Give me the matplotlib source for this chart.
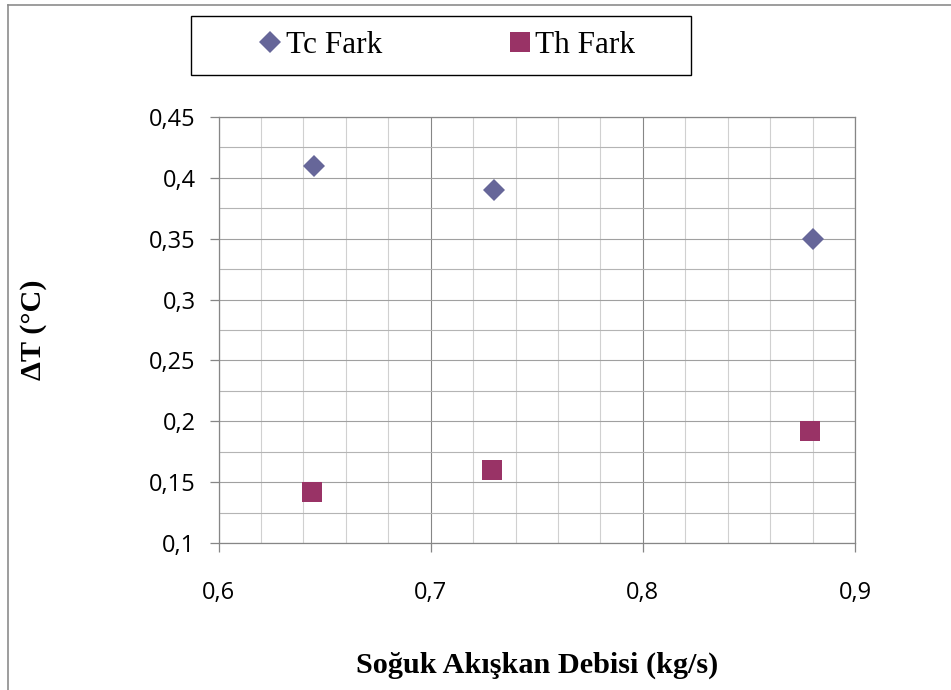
import matplotlib
matplotlib.use("Agg")
import matplotlib.pyplot as plt
from matplotlib.lines import Line2D
from matplotlib.patches import Rectangle
from matplotlib.ticker import MultipleLocator, FuncFormatter

# Measured temperature differences vs. cold-side mass flow
tc_flow = [0.645, 0.73, 0.88]
tc_diff = [0.41, 0.39, 0.35]
th_flow = [0.644, 0.729, 0.879]
th_diff = [0.142, 0.16, 0.192]

series_labels = ["Tc Fark", "Th Fark"]
xlabel = "Soğuk Akışkan Debisi (kg/s)"
ylabel = "ΔT (°C)"

W, H = 951, 690
fig = plt.figure(figsize=(W / 100, H / 100), dpi=100)
ax = fig.add_axes([218.5 / W, 1 - 543 / H, (855 - 218.5) / W, (543 - 117) / H])

# outer chart border (left and top edges only are in view)
fig.add_artist(Line2D([7.5 / W, 7.5 / W], [0, 1 - 4.5 / H], transform=fig.transFigure,
                      color="#8c8c8c", lw=1.2))
fig.add_artist(Line2D([7.5 / W, 1], [1 - 4.5 / H, 1 - 4.5 / H], transform=fig.transFigure,
                      color="#8c8c8c", lw=1.2))

ax.plot(tc_flow, tc_diff, linestyle="none", marker="D", ms=11, mew=0,
        color="#666699", label=series_labels[0], zorder=3)
ax.plot(th_flow, th_diff, linestyle="none", marker="s", ms=13.8, mew=0,
        color="#993366", label=series_labels[1], zorder=3)

ax.set_xlim(0.6, 0.9)
ax.set_ylim(0.1, 0.45)
ax.xaxis.set_major_locator(MultipleLocator(0.1))
ax.xaxis.set_minor_locator(MultipleLocator(0.02))
ax.yaxis.set_major_locator(MultipleLocator(0.05))
ax.yaxis.set_minor_locator(MultipleLocator(0.025))

comma = FuncFormatter(lambda v, p: f"{v:.2f}".rstrip("0").rstrip(".").replace(".", ","))
ax.xaxis.set_major_formatter(comma)
ax.yaxis.set_major_formatter(comma)

ax.grid(True, which="major", axis="x", color="#868686", lw=0.8)
ax.grid(True, which="minor", axis="x", color="#d0d0d0", lw=0.8)
ax.grid(True, which="major", axis="y", color="#a0a0a0", lw=0.8)
ax.grid(True, which="minor", axis="y", color="#b4b4b4", lw=0.8)
ax.set_axisbelow(True)

for s in ax.spines.values():
    s.set_color("#868686")
    s.set_linewidth(0.9)

ax.tick_params(which="major", direction="out", length=6.5, width=0.9, color="#868686",
               labelsize=17, labelcolor="black")
ax.tick_params(axis="y", which="major", pad=10)
ax.tick_params(axis="x", which="major", pad=21)
ax.tick_params(which="minor", length=0)
for lab in ax.get_xticklabels() + ax.get_yticklabels():
    lab.set_fontfamily("Open Sans")

ax.set_xlabel(xlabel, family="Liberation Serif", fontweight="bold", fontsize=21.8, va="center")
ax.xaxis.set_label_coords(0.5, -0.286)
ax.set_ylabel(ylabel, family="Liberation Serif", fontweight="bold", fontsize=21.8, va="center")
ax.yaxis.set_label_coords(-0.2914, 0.5)

# legend box across the top
fig.add_artist(Rectangle((190.5 / W, 1 - 75 / H), (691 - 190.5) / W, (75 - 16) / H,
                         transform=fig.transFigure, fill=False, edgecolor="black", lw=1.0))
fig.legend(loc="center", bbox_to_anchor=(448 / W, 1 - 45.5 / H), ncol=2, frameon=False,
           prop={"family": "Liberation Serif", "size": 22.5},
           handlelength=0.6, handletextpad=0.2, columnspacing=4.1)

fig.savefig("out.png", dpi=100)
